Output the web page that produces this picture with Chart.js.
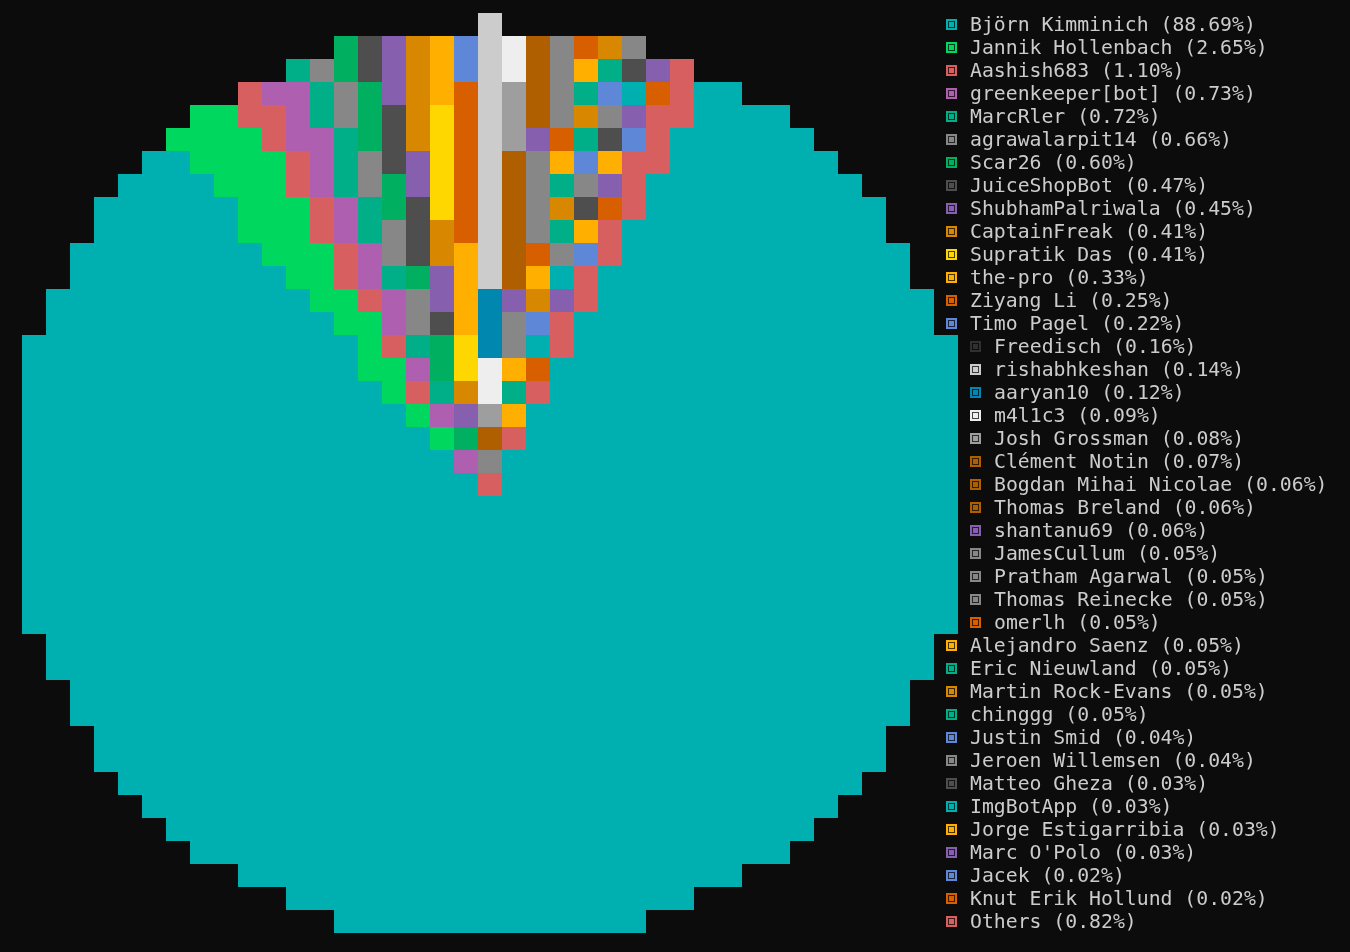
<!DOCTYPE html>
<html>
<head>
<meta charset="utf-8">
<script src="https://cdn.jsdelivr.net/npm/chart.js@4.4.1/dist/chart.umd.min.js"></script>
<style>
  html, body { margin: 0; padding: 0; background: #0c0c0c; width: 1350px; height: 952px; overflow: hidden; }
  #pie { position: absolute; left: 22px; top: 13px; width: 936px; height: 920px; }
  #legend { position: absolute; left: 0; top: 13px; width: 1350px; height: 920px;
            font-family: "DejaVu Sans Mono", monospace; font-size: 19.8px; color: #cccccc; }
  .row { position: absolute; height: 23px; line-height: 23px; white-space: pre; }
  .mk { position: absolute; left: 0; top: 6px; width: 11px; height: 11px; }
  .tx { position: absolute; left: 24px; top: 0; }
</style>
</head>
<body>
<canvas id="pie" width="936" height="920"></canvas>
<div id="legend"></div>
<script>
// ---- data ----
const contributors = [
  "Björn Kimminich", "Jannik Hollenbach", "Aashish683", "greenkeeper[bot]", "MarcRler",
  "agrawalarpit14", "Scar26", "JuiceShopBot", "ShubhamPalriwala", "CaptainFreak",
  "Supratik Das", "the-pro", "Ziyang Li", "Timo Pagel", "Freedisch",
  "rishabhkeshan", "aaryan10", "m4l1c3", "Josh Grossman", "Clément Notin",
  "Bogdan Mihai Nicolae", "Thomas Breland", "shantanu69", "JamesCullum", "Pratham Agarwal",
  "Thomas Reinecke", "omerlh", "Alejandro Saenz", "Eric Nieuwland", "Martin Rock-Evans",
  "chinggg", "Justin Smid", "Jeroen Willemsen", "Matteo Gheza", "ImgBotApp",
  "Jorge Estigarribia", "Marc O'Polo", "Jacek", "Knut Erik Hollund", "Others"
];
const shares = [
  88.69, 2.65, 1.10, 0.73, 0.72,
  0.66, 0.60, 0.47, 0.45, 0.41,
  0.41, 0.33, 0.25, 0.22, 0.16,
  0.14, 0.12, 0.09, 0.08, 0.07,
  0.06, 0.06, 0.06, 0.05, 0.05,
  0.05, 0.05, 0.05, 0.05, 0.05,
  0.05, 0.04, 0.04, 0.03, 0.03,
  0.03, 0.03, 0.02, 0.02, 0.82
];
const sliceColors = [
  "#00afaf", "#00d75f", "#d75f5f", "#af5faf", "#00af87",
  "#878787", "#00af5f", "#4e4e4e", "#875faf", "#d78700",
  "#ffd700", "#ffaf00", "#d75f00", "#5f87d7", "#303030",
  "#cccccc", "#0087af", "#eeeeee", "#9e9e9e", "#af5f00",
  "#af5f00", "#af5f00", "#875faf", "#878787", "#878787",
  "#878787", "#d75f00", "#ffaf00", "#00af87", "#d78700",
  "#00af87", "#5f87d7", "#878787", "#4e4e4e", "#00afaf",
  "#ffaf00", "#875faf", "#5f87d7", "#d75f00", "#d75f5f"
];
// the terminal renderer widens every slice by a fixed share so tiny ones stay visible
const SLICE_PAD = 0.23;

// ---- layout / style ----
const START_ANGLE = 26.6;          // degrees, where the first slice starts
const GRID_COLS = 39, GRID_ROWS = 40, CENTER_COL = 19, CENTER_ROW = 20;
const CELL_W = 24, CELL_H = 23, RING_CELLS = 20.01;
const SAMPLE_SHIFT = 0.67;         // where inside a cell its colour is picked (cells)
const CANVAS_LEFT = 22, LEGEND_X = 946, LEGEND_GAP = 12, ROW_H = 23;

let rowEdges = [];

const terminalCells = {
  id: 'terminalCells',
  beforeDatasetsDraw() { return false; },
  afterDraw(chart) {
    const ctx = chart.ctx;
    const arcs = chart.getDatasetMeta(0).data;
    const cx = arcs[0].x, cy = arcs[0].y, outer = arcs[0].outerRadius;
    const unit = outer / RING_CELLS;
    const sa = arcs[0].startAngle - 0.002;
    const ox = Math.cos(sa) * SAMPLE_SHIFT, oy = Math.sin(sa) * SAMPLE_SHIFT;
    rowEdges = [];
    ctx.save();
    for (let r = 0; r < GRID_ROWS; r++) {
      let right = -1;
      for (let c = 0; c < GRID_COLS; c++) {
        const dx = c - CENTER_COL, dy = r - CENTER_ROW;
        const inside = arcs.some(a => a.inRange(cx + dx * unit, cy + dy * unit, true));
        if (!inside) continue;
        const vx = dx + ox, vy = dy + oy, len = Math.hypot(vx, vy);
        const qx = cx + vx / len * outer * 0.5, qy = cy + vy / len * outer * 0.5;
        const hit = arcs.find(a => a.inRange(qx, qy, true));
        if (!hit) continue;
        const x0 = Math.round(cx + dx * CELL_W - CELL_W / 2);
        const y0 = Math.round(cy + dy * CELL_H - CELL_H / 2);
        ctx.fillStyle = hit.options.backgroundColor;
        ctx.fillRect(x0, y0, CELL_W, CELL_H);
        right = Math.max(right, x0 + CELL_W);
      }
      rowEdges.push(right);
    }
    ctx.restore();
  }
};

const chart = new Chart(document.getElementById('pie'), {
  type: 'pie',
  data: {
    labels: contributors,
    datasets: [{
      data: shares.map(v => v + SLICE_PAD),
      backgroundColor: sliceColors,
      borderWidth: 0
    }]
  },
  options: {
    responsive: false,
    devicePixelRatio: 1,
    animation: false,
    events: [],
    rotation: START_ANGLE,
    layout: { padding: { top: CELL_H } },
    plugins: { legend: { display: false }, tooltip: { enabled: false } }
  },
  plugins: [terminalCells]
});

// ---- legend ----
const legend = document.getElementById('legend');
contributors.forEach((name, i) => {
  const row = document.createElement('div');
  row.className = 'row';
  const edge = rowEdges[i] >= 0 ? CANVAS_LEFT + rowEdges[i] + LEGEND_GAP : 0;
  row.style.left = Math.max(LEGEND_X, edge) + 'px';
  row.style.top = (i * ROW_H) + 'px';
  const mk = document.createElement('span');
  mk.className = 'mk';
  mk.style.background = sliceColors[i];
  mk.style.boxShadow = 'inset 0 0 0 2px ' + sliceColors[i] + ', inset 0 0 0 3px rgba(0,0,0,0.72)';
  const tx = document.createElement('span');
  tx.className = 'tx';
  tx.textContent = name + ' (' + shares[i].toFixed(2) + '%)';
  row.appendChild(mk);
  row.appendChild(tx);
  legend.appendChild(row);
});
</script>
</body>
</html>
